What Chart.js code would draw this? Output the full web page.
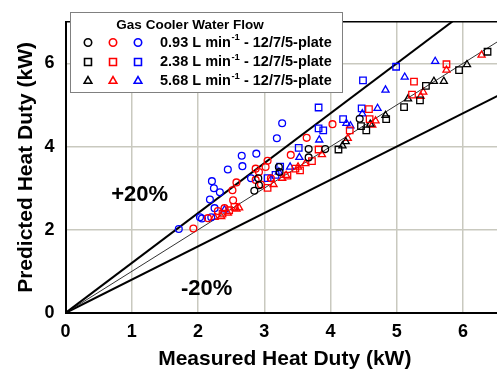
<!DOCTYPE html>
<html>
<head>
<meta charset="utf-8">
<script src="https://cdn.jsdelivr.net/npm/chart.js@4/dist/chart.umd.min.js"></script>
<style>
  html, body { margin: 0; padding: 0; background: #fff; overflow: hidden; width: 497px; height: 376px; }
  #wrap { width: 510px; height: 376px; }
</style>
</head>
<body>
<div id="wrap"><canvas id="c" width="510" height="376"></canvas></div>
<script>
// Measured vs predicted gas cooler heat duty (kW), [measured, predicted]
// Rows = water flow rate (marker shape), columns = marker colour (black / red / blue)
const flowRates = ['0.93', '2.38', '5.68'];
const geometry = '12/7/5-plate';
const legendTitle = 'Gas Cooler Water Flow';

const k093 = [[2.85,2.94],[2.92,3.07],[2.91,3.24],[3.23,3.39],[3.22,3.51],[3.67,3.74],[3.67,3.94],[3.92,3.94],[4.44,4.67]];
const r093 = [[1.93,2.03],[2.15,2.28],[2.30,2.45],[2.40,2.52],[2.53,2.71],[2.52,2.95],[2.58,3.14],[2.87,3.47],[3.05,3.66],[3.02,3.51],[2.92,3.39],[2.87,3.20],[2.95,3.09],[3.10,3.24],[3.40,3.80],[3.64,4.21],[4.03,4.54]];
const b093 = [[1.71,2.02],[2.03,2.30],[2.06,2.27],[2.20,2.30],[2.25,2.52],[2.18,2.73],[2.33,2.90],[2.24,3.00],[2.21,3.17],[2.45,3.45],[2.66,3.78],[2.67,3.53],[2.88,3.83],[2.80,3.24],[3.19,4.20],[3.27,4.56]];

const k238 = [[4.12,3.93],[4.54,4.39],[4.46,4.49],[4.84,4.66],[5.11,4.95],[5.35,5.11],[5.44,5.46],[5.94,5.84],[6.37,6.28]];
const r238 = [[2.37,2.39],[2.47,2.47],[2.55,2.55],[3.05,3.01],[3.35,3.30],[3.47,3.47],[3.54,3.43],[3.72,3.65],[3.82,3.93],[4.29,4.39],[4.59,4.66],[4.58,4.90],[5.23,5.25],[5.26,5.56],[5.75,5.98]];
const b238 = [[3.05,3.24],[3.17,3.32],[3.24,3.52],[3.52,3.97],[3.82,4.44],[3.89,4.39],[3.82,4.94],[4.19,4.66],[4.47,4.92],[4.49,5.59],[4.99,5.92]];

const k568 = [[4.18,4.02],[4.23,4.12],[4.60,4.54],[4.83,4.75],[5.17,5.15],[5.56,5.57],[5.71,5.57],[6.06,5.97]];
const r568 = [[2.25,2.30],[2.35,2.32],[2.45,2.40],[2.58,2.50],[2.62,2.53],[3.14,3.09],[3.10,3.22],[3.27,3.24],[3.33,3.31],[3.51,3.51],[3.62,3.59],[3.87,3.81],[4.26,4.20],[4.68,4.62],[4.63,4.52],[5.36,5.21],[5.40,5.31],[5.75,5.84],[6.28,6.20]];
const b568 = [[2.40,2.48],[3.22,3.39],[3.39,3.51],[3.53,3.74],[3.83,4.16],[4.24,4.56],[4.30,4.50],[4.48,4.79],[4.71,4.92],[4.83,5.36],[5.12,5.67],[5.58,6.05]];

// Deviation band: predicted = slope * measured
const refSlopes = [1.2, 1.0, 0.8];
const bandLabels = ['+20%', '-20%'];

const xTicks = [0, 1, 2, 3, 4, 5, 6];
const yTicks = [0, 2, 4, 6];
const xTitle = 'Measured Heat Duty (kW)';
const yTitle = 'Predicted Heat Duty (kW)';

const FONT = '"Liberation Sans", Arial, Helvetica, sans-serif';
const X_MAX = 6.62, Y_MAX = 7;

const groups = [
  [k093, r093, b093],
  [k238, r238, b238],
  [k568, r568, b568]
];
const shapes = ['circle', 'rect', 'triangle'];
const radii = { circle: 3.4, rect: 4.6, triangle: 4.1 };
const colours = ['#000000', '#ff0000', '#0000ff'];

const datasets = [];
refSlopes.forEach(s => {
  datasets.push({
    type: 'line',
    data: [{ x: 0, y: 0 }, { x: X_MAX, y: s * X_MAX }],
    borderColor: s === 1 ? '#333333' : '#000000',
    borderWidth: s === 1 ? 1 : 2,
    pointRadius: 0,
    fill: false,
    order: 10
  });
});
groups.forEach((row, i) => {
  row.forEach((pts, j) => {
    datasets.push({
      type: 'scatter',
      label: flowRates[i] + ' L/min',
      data: pts.map(p => ({ x: p[0], y: p[1] })),
      pointStyle: shapes[i],
      pointRadius: radii[shapes[i]],
      pointBorderWidth: 1.3,
      borderColor: colours[j],
      pointBackgroundColor: 'rgba(0,0,0,0)',
      backgroundColor: 'rgba(0,0,0,0)',
      order: 1
    });
  });
});

const decor = {
  id: 'decor',
  afterDatasetsDraw(chart) {
    const { ctx, chartArea: a, scales: { x, y } } = chart;
    ctx.save();
    // top frame line
    ctx.strokeStyle = '#000';
    ctx.lineWidth = 1.5;
    ctx.beginPath();
    ctx.moveTo(a.left, a.top);
    ctx.lineTo(a.right, a.top);
    ctx.stroke();

    // band labels
    ctx.fillStyle = '#000';
    ctx.font = 'bold 22px ' + FONT;
    ctx.textAlign = 'center';
    ctx.textBaseline = 'middle';
    ctx.fillText(bandLabels[0], x.getPixelForValue(1.12), y.getPixelForValue(2.83));
    ctx.fillText(bandLabels[1], x.getPixelForValue(2.13), y.getPixelForValue(0.57));

    // legend box
    const bx = 70, by = 12, bw = 272, bh = 80;
    ctx.fillStyle = '#fff';
    ctx.fillRect(bx, by, bw, bh);
    ctx.strokeStyle = '#808080';
    ctx.lineWidth = 1;
    ctx.strokeRect(bx + 0.5, by + 0.5, bw, bh);

    ctx.fillStyle = '#000';
    ctx.font = 'bold 13.5px ' + FONT;
    ctx.textAlign = 'center';
    ctx.fillText(legendTitle, 190, 25);

    const rowY = [42.5, 62, 81];
    const colX = [88, 113, 138];
    flowRates.forEach((fr, i) => {
      colours.forEach((c, j) => {
        ctx.strokeStyle = c;
        ctx.fillStyle = 'rgba(0,0,0,0)';
        ctx.lineWidth = 1.6;
        Chart.helpers.drawPoint(ctx, {
          pointStyle: shapes[i],
          radius: radii[shapes[i]] + 0.3,
          borderWidth: 1.6,
          rotation: 0
        }, colX[j], rowY[i]);
      });
      ctx.fillStyle = '#000';
      ctx.textAlign = 'left';
      ctx.textBaseline = 'middle';
      let tx = 160;
      ctx.font = 'bold 14.5px ' + FONT;
      const p1 = fr + ' L min';
      ctx.fillText(p1, tx, rowY[i]);
      tx += ctx.measureText(p1).width;
      ctx.font = 'bold 9.5px ' + FONT;
      ctx.fillText('-1', tx + 0.5, rowY[i] - 5);
      tx += ctx.measureText('-1').width + 0.5;
      ctx.font = 'bold 14.5px ' + FONT;
      ctx.fillText(' - ' + geometry, tx, rowY[i]);
    });
    ctx.restore();
  }
};

new Chart(document.getElementById('c'), {
  data: { datasets },
  options: {
    responsive: false,
    devicePixelRatio: 1,
    animation: false,
    layout: { padding: { top: 8, right: 0, left: 0, bottom: 0 } },
    plugins: { legend: { display: false }, tooltip: { enabled: false } },
    scales: {
      x: {
        type: 'linear',
        min: 0,
        max: X_MAX,
        afterBuildTicks: s => { s.ticks = xTicks.map(v => ({ value: v })); },
        afterFit: s => { s.height = 63; },
        grid: { color: '#c9c9bf', lineWidth: 1.5, drawTicks: false },
        border: { color: '#000', width: 2 },
        ticks: { color: '#000', font: { family: FONT, size: 18, weight: 'bold' }, padding: 8, maxRotation: 0 },
        title: { display: true, text: xTitle, color: '#000', font: { family: FONT, size: 21, weight: 'bold' }, padding: { top: 0, bottom: 4 } }
      },
      y: {
        type: 'linear',
        min: 0,
        max: Y_MAX,
        afterBuildTicks: s => { s.ticks = yTicks.map(v => ({ value: v })); },
        afterFit: s => { s.width = 65.5; },
        grid: { color: '#c9c9bf', lineWidth: 1.5, drawTicks: false },
        border: { color: '#000', width: 2 },
        ticks: { color: '#000', font: { family: FONT, size: 18, weight: 'bold' }, padding: 11 },
        title: { display: true, text: yTitle, color: '#000', font: { family: FONT, size: 21, weight: 'bold' }, padding: { top: 14, bottom: 0 } }
      }
    }
  },
  plugins: [decor]
});
</script>
</body>
</html>
